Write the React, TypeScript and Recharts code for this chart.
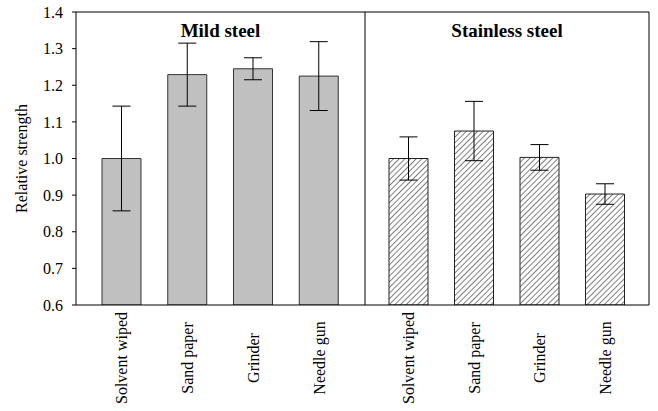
import { BarChart, Bar, XAxis, YAxis, ErrorBar } from 'recharts';

const treatments = ['Solvent wiped', 'Sand paper', 'Grinder', 'Needle gun'];
const mildMean = [1.0, 1.229, 1.245, 1.225];
const mildErr = [0.143, 0.086, 0.03, 0.094];
const stainlessMean = [1.0, 1.075, 1.003, 0.903];
const stainlessErr = [0.059, 0.081, 0.035, 0.028];
const yTicks = [0.6, 0.7, 0.8, 0.9, 1.0, 1.1, 1.2, 1.3, 1.4];

const FONT = '"Liberation Serif", "Times New Roman", serif';

const mildData = treatments.map((t, i) => ({ name: t, value: mildMean[i], err: mildErr[i] }));
const stainlessData = treatments.map((t, i) => ({ name: t, value: stainlessMean[i], err: stainlessErr[i] }));

// labels are centred in the band under the axis, like Excel does
const RotatedTick = (props: any) => {
  const { x, y, payload } = props;
  const cy = y + 40;
  return (
    <text
      x={x}
      y={cy}
      transform={`rotate(-90, ${x}, ${cy})`}
      textAnchor="middle"
      dy="0.35em"
      fontSize={16}
      fill="#000"
      style={{ fontFamily: FONT }}
    >
      {payload.value}
    </text>
  );
};

const axisLine = { stroke: '#000', strokeWidth: 1 };
const titleStyle = { fontSize: 19, fontWeight: 'bold', fontFamily: FONT, fill: '#000' };

export default function App() {
  return (
    <div style={{ position: 'absolute', left: 0, top: 0, width: 658, height: 411, background: '#fff' }}>
      <div style={{ position: 'absolute', left: 365, top: 0 }}>
        <BarChart width={293} height={411} data={stainlessData} margin={{ top: 11, right: 8, bottom: 0, left: 0 }}>
          <defs>
            <pattern id="hatch" patternUnits="userSpaceOnUse" width={4} height={4} patternTransform="rotate(45)">
              <rect width={4} height={4} fill="#fff" />
              <line x1={0} y1={0} x2={0} y2={4} stroke="#000" strokeWidth={1} />
            </pattern>
          </defs>
          <XAxis
            dataKey="name"
            height={106}
            axisLine={axisLine}
            tickLine={false}
            tickSize={0}
            tickMargin={13}
            tick={<RotatedTick />}
            interval={0}
            padding={{ left: 11, right: 11 }}
          />
          <XAxis
            xAxisId="top"
            orientation="top"
            dataKey="name"
            height={1}
            axisLine={axisLine}
            tick={false}
            tickLine={false}
            label={{ value: 'Stainless steel', position: 'bottom', offset: 11.5, style: titleStyle }}
          />
          <YAxis hide domain={[0.6, 1.4]} ticks={yTicks} allowDataOverflow />
          <YAxis
            yAxisId="r"
            orientation="right"
            width={1}
            domain={[0.6, 1.4]}
            axisLine={axisLine}
            tick={false}
            tickLine={false}
          />
          <Bar dataKey="value" barSize={39} fill="url(#hatch)" stroke="#222" strokeWidth={1} isAnimationActive={false}>
            <ErrorBar dataKey="err" width={9} stroke="#000" strokeWidth={1} />
          </Bar>
        </BarChart>
      </div>
      <div style={{ position: 'absolute', left: 0, top: 0 }}>
        <BarChart width={366} height={411} data={mildData} margin={{ top: 11, right: 0, bottom: 0, left: 0 }}>
          <XAxis
            dataKey="name"
            height={106}
            axisLine={axisLine}
            tickLine={false}
            tickSize={0}
            tickMargin={13}
            tick={<RotatedTick />}
            interval={0}
            padding={{ left: 13, right: 13 }}
          />
          <XAxis
            xAxisId="top"
            orientation="top"
            dataKey="name"
            height={1}
            axisLine={axisLine}
            tick={false}
            tickLine={false}
            label={{ value: 'Mild steel', position: 'bottom', offset: 11.5, style: titleStyle }}
          />
          <YAxis
            width={76}
            domain={[0.6, 1.4]}
            ticks={yTicks}
            allowDataOverflow
            interval={0}
            axisLine={axisLine}
            tickLine={{ stroke: '#000' }}
            tickSize={4}
            tickMargin={9}
            tickFormatter={(v: number) => v.toFixed(1)}
            tick={{ fontSize: 16, fontFamily: FONT, fill: '#000' }}
            label={{
              value: 'Relative strength',
              angle: -90,
              position: 'center',
              dx: -17,
              style: { fontSize: 16, fontFamily: FONT, fill: '#000' },
            }}
          />
          <YAxis
            yAxisId="r"
            orientation="right"
            width={1}
            domain={[0.6, 1.4]}
            axisLine={axisLine}
            tick={false}
            tickLine={false}
          />
          <Bar dataKey="value" barSize={39} fill="#c0c0c0" stroke="#333" strokeWidth={1} isAnimationActive={false}>
            <ErrorBar dataKey="err" width={9} stroke="#000" strokeWidth={1} />
          </Bar>
        </BarChart>
      </div>
    </div>
  );
}
